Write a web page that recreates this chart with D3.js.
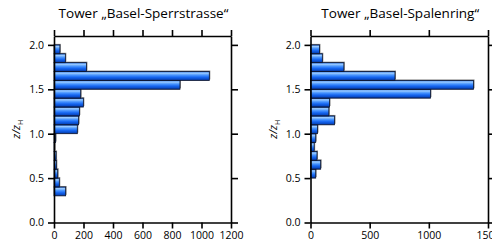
<!DOCTYPE html>
<html><head><meta charset="utf-8">
<script src="https://cdn.jsdelivr.net/npm/d3@7"></script>
<style>
body{margin:0;background:#fff;}
text{font-family:"Open Sans","Noto Sans",sans-serif;}
</style></head>
<body>
<svg id="c" width="492" height="246"></svg>
<script>
// bin lower edges (z/zH), bins 0.1 wide
const zBins = [0.0,0.1,0.2,0.3,0.4,0.5,0.6,0.7,0.8,0.9,1.0,1.1,1.2,1.3,1.4,1.5,1.6,1.7,1.8,1.9];
const sperrValues = [0,0,0,79,36,25,16,14,4,11,158,167,172,199,181,854,1053,220,77,40];
const spalenValues = [0,0,0,0,0,44,86,55,31,44,59,203,155,161,1014,1378,714,282,100,76];
const titles = ["Tower „Basel-Sperrstrasse“", "Tower „Basel-Spalenring“"];
const yTicks = [0.0,0.5,1.0,1.5,2.0];
const xTicksLeft = [0,200,400,600,800,1000,1200];
const xTicksRight = [0,500,1000,1500];
const xMax = [1200,1500];

const svg = d3.select("#c");
const defs = svg.append("defs");
const grad = defs.append("linearGradient").attr("id","barGrad").attr("x1",0).attr("y1",0).attr("x2",0).attr("y2",1);
[[0,"#2a6fe0"],[0.18,"#9cccff"],[0.4,"#4a96ff"],[0.65,"#1565f0"],[0.85,"#0a4cc8"],[1,"#06287a"]]
  .forEach(([o,c])=>grad.append("stop").attr("offset",o).attr("stop-color",c));

const panels = [
  {left:54, right:231, values:sperrValues, ticks:xTicksLeft, max:xMax[0], title:titles[0], labelX:16},
  {left:310.5, right:488, values:spalenValues, ticks:xTicksRight, max:xMax[1], title:titles[1], labelX:273}
];
const plotTop = 36, plotBottom = 222.5;

panels.forEach(p=>{
  const g = svg.append("g");
  const x = d3.scaleLinear().domain([0,p.max]).range([p.left,p.right]);
  const y = d3.scaleLinear().domain([0,2.1]).range([plotBottom,plotTop]);
  const data = zBins.map((z,i)=>({z, v:p.values[i]})).filter(d=>d.v>0);

  // shadow
  g.selectAll("rect.sh").data(data).enter().append("rect")
    .attr("x",x(0)).attr("y",d=>y(d.z+0.1)-1)
    .attr("width",d=>x(d.v)-x(0)+1).attr("height",d=>y(d.z)-y(d.z+0.1))
    .attr("fill","#8a8a8a");
  g.selectAll("rect.bar").data(data).enter().append("rect")
    .attr("x",x(0)).attr("y",d=>y(d.z+0.1))
    .attr("width",d=>x(d.v)-x(0)).attr("height",d=>y(d.z)-y(d.z+0.1))
    .attr("fill","url(#barGrad)").attr("stroke","#0b1530").attr("stroke-width",0.8);

  const styleAxis = sel=>{
    sel.selectAll("path.domain").attr("stroke","#000").attr("stroke-width",1.6);
    sel.selectAll(".tick line").attr("stroke","#000").attr("stroke-width",1.6);
    sel.selectAll("text").attr("font-size",10.5).attr("fill","#000")
      .attr("font-family","'Open Sans','Noto Sans',sans-serif");
  };
  const ax = g.append("g").attr("transform",`translate(0,${plotBottom})`)
    .call(d3.axisBottom(x).tickValues(p.ticks).tickSize(6).tickPadding(3).tickSizeOuter(0).tickFormat(d3.format("d")));
  styleAxis(ax);
  const axT = g.append("g").attr("transform",`translate(0,${plotTop})`)
    .call(d3.axisTop(x).tickValues(p.ticks).tickSize(6).tickSizeOuter(0).tickFormat(""));
  styleAxis(axT);
  const ay = g.append("g").attr("transform",`translate(${p.left},0)`)
    .call(d3.axisLeft(y).tickValues(yTicks).tickSize(6).tickPadding(4).tickSizeOuter(0).tickFormat(d3.format(".1f")));
  styleAxis(ay);
  const ayR = g.append("g").attr("transform",`translate(${p.right},0)`)
    .call(d3.axisRight(y).tickValues(yTicks).tickSize(7).tickSizeOuter(0).tickFormat(""));
  styleAxis(ayR);

  g.append("text").attr("x",(p.left+p.right)/2+1).attr("y",18).attr("text-anchor","middle")
    .attr("font-size",13.5).attr("fill","#000").text(p.title);

  const yl = g.append("text").attr("transform",`translate(${p.labelX+4},${(plotTop+plotBottom)/2}) rotate(-90)`)
    .attr("text-anchor","middle").attr("font-size",11).attr("fill","#000").attr("font-style","italic");
  yl.append("tspan").text("z/z");
  yl.append("tspan").attr("font-size",7).attr("dy",3).attr("font-style","normal").text("H");
});
</script>
</body></html>
